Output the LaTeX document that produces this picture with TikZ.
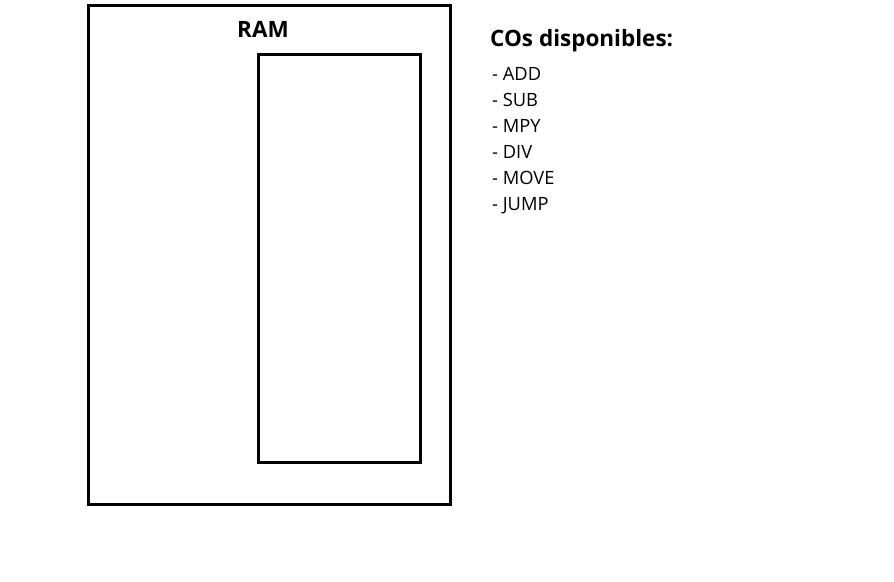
\documentclass[tikz,border=0pt]{standalone}
\usepackage{fontspec}
\setmainfont{Open Sans}
\begin{document}
\begin{tikzpicture}[x=1pt,y=-1pt,
  box/.style={draw=black,line width=3pt},
  title/.style={font=\bfseries\fontsize{22.5}{26}\selectfont,anchor=base west,inner sep=0pt},
  item/.style={font=\fontsize{18.3}{21}\selectfont,anchor=base west,inner sep=0pt}]
\useasboundingbox (0,0) rectangle (894,581);
\coordinate (outerA) at (88.5,5);
\coordinate (outerB) at (450.5,504.5);
\coordinate (innerA) at (258.5,54.5);
\coordinate (innerB) at (420.5,462.5);
\draw[box] (outerA) rectangle (outerB);
\draw[box] (innerA) rectangle (innerB);
\node[title] (ram) at (237,37.5) {RAM};
\node[title] (cos) at (490,46.5) {COs disponibles:};
\node[item] (i1) at (492,80.5) {- ADD};
\node[item] (i2) at (492,106.5) {- SUB};
\node[item] (i3) at (492,132.5) {- MPY};
\node[item] (i4) at (492,158.5) {- DIV};
\node[item] (i5) at (492,184.5) {- MOVE};
\node[item] (i6) at (492,210.5) {- JUMP};
\end{tikzpicture}
\end{document}
